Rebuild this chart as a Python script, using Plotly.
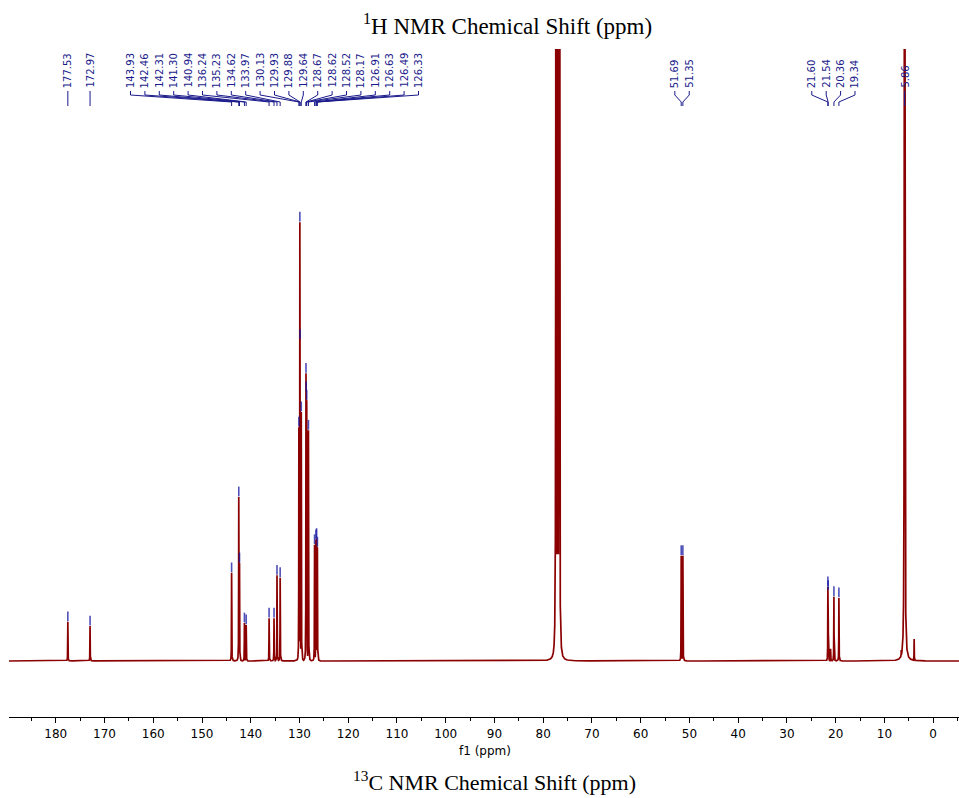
import numpy as np
import plotly.graph_objects as go

# ---------------- data ----------------
# labelled peaks: chemical shift (ppm) and relative intensity
peak_ppm = [177.53, 172.97,
            143.93, 142.46, 142.31, 141.30, 140.94, 136.24, 135.23, 134.62, 133.97,
            130.13, 129.93, 129.88, 129.64, 128.67, 128.62, 128.52, 128.17,
            126.91, 126.63, 126.49, 126.33,
            51.69, 51.35,
            21.60, 21.54, 20.36, 19.34,
            5.86]
peak_height = [0.064, 0.057,
               0.144, 0.268, 0.160, 0.062, 0.059, 0.070, 0.070, 0.140, 0.136,
               0.382, 0.717, 0.525, 0.407, 0.470, 0.440, 0.426, 0.377,
               0.190, 0.198, 0.200, 0.186,
               0.172, 0.172,
               0.121, 0.115, 0.105, 0.103,
               20.0]
# unlabelled peaks (solvent CDCl3 triplet and small impurities)
extra_ppm = [77.36, 77.04, 76.72, 21.05, 6.55, 6.30, 5.45, 3.90]
extra_height = [20.0, 20.0, 20.0, 0.020, 0.018, 0.028, 0.014, 0.036]

# label groups (indices into peak_ppm), as drawn in the reference header
label_groups = [[0], [1], list(range(2, 23)), [23, 24], [25, 26, 27, 28], [29]]

tick_vals = list(range(0, 190, 10))
x_range = [189.6, -5.3]

top_title = "<sup>1</sup>H NMR Chemical Shift (ppm)"
bottom_title = "<sup>13</sup>C NMR Chemical Shift (ppm)"
axis_title = "f1 (ppm)"

# ---------------- layout constants ----------------
W, H = 959, 798
ML, MR, MT, MB = 9, 0, 49, 81
PLOT_H = H - MT - MB
PX_PER_PPM = (W - ML - MR) / (x_range[0] - x_range[1])
Y_RANGE = [-0.0915, 1.0]

def yp(py):
    """pixel row -> paper fraction of plot area"""
    return (H - MB - py) / PLOT_H

RED = "#8b0000"
NAVY = "#1a1a8c"

# ---------------- spectrum trace ----------------
xs = np.round(np.arange(x_range[0], x_range[1], -0.005), 4)
ys = np.zeros_like(xs)
all_ppm = peak_ppm + extra_ppm
all_h = peak_height + extra_height
for p, h in zip(all_ppm, all_h):
    g = 0.015 if h >= 10 else 0.025
    ys = np.maximum(ys, h * g * g / ((xs - p) ** 2 + g * g))
ys = np.round(ys, 5)

fig = go.Figure()
fig.add_trace(go.Scatter(x=xs, y=ys, mode="lines",
                         line=dict(color=RED, width=1.7),
                         hoverinfo="skip", showlegend=False))

# peak-pick marks above each labelled peak (those inside the plot)
mk_x = [p for p, h in zip(peak_ppm, peak_height) if h < 0.95]
mk_y = [h + 0.009 for h in peak_height if h < 0.95]
fig.add_trace(go.Scatter(x=mk_x, y=mk_y, mode="markers",
                         marker=dict(symbol="line-ns", size=7,
                                     line=dict(color="rgba(20,20,160,0.75)", width=1.6)),
                         hoverinfo="skip", showlegend=False))

# ---------------- peak labels with connectors ----------------
spacing_ppm = 14.4 / PX_PER_PPM
shapes = []
annotations = []
for grp in label_groups:
    vals = [peak_ppm[i] for i in grp]
    center = (max(vals) + min(vals)) / 2
    n = len(grp)
    for k, i in enumerate(grp):
        lx = center + (n - 1) / 2 * spacing_ppm - k * spacing_ppm if n > 1 else peak_ppm[i]
        px = peak_ppm[i]
        annotations.append(dict(x=lx, y=yp(89), xref="x", yref="paper",
                                 text=f"{px:.2f}", textangle=-90, showarrow=False,
                                 xanchor="center", yanchor="bottom",
                                 font=dict(family="DejaVu Sans", size=10, color=NAVY),
                                 borderpad=0))
        path = (f"M {lx},{yp(91)} L {lx},{yp(95)} L {px},{yp(102)} L {px},{yp(106)}")
        shapes.append(dict(type="path", path=path, xref="x", yref="paper",
                           line=dict(color=NAVY, width=1)))

annotations.append(dict(x=507, y=25, text=top_title, showarrow=False,
                        font=dict(family="Liberation Serif", size=23, color="black")))
annotations.append(dict(x=485, y=751, text=axis_title, showarrow=False,
                        font=dict(family="DejaVu Sans", size=12, color="black")))
annotations.append(dict(x=494, y=781, text=bottom_title, showarrow=False,
                        font=dict(family="Liberation Serif", size=22, color="black")))

# convert the three pixel-positioned titles to paper coordinates
for a in annotations[-3:]:
    a["xref"] = "paper"
    a["yref"] = "paper"
    a["x"] = (a["x"] - ML) / (W - ML - MR)
    a["y"] = yp(a["y"])
    a["xanchor"] = "center"
    a["yanchor"] = "middle"

fig.update_layout(
    width=W, height=H,
    margin=dict(l=ML, r=MR, t=MT, b=MB, pad=0),
    paper_bgcolor="white", plot_bgcolor="white",
    shapes=shapes, annotations=annotations,
    xaxis=dict(range=x_range, showgrid=False, zeroline=False,
               showline=True, linecolor="black", linewidth=1,
               ticks="outside", ticklen=5, tickcolor="black", tickwidth=1,
               tickvals=tick_vals, ticktext=[str(v) for v in tick_vals],
               ticklabelstandoff=1,
               tickfont=dict(family="DejaVu Sans", size=12, color="black"),
               minor=dict(dtick=5, tick0=0, ticks="outside", ticklen=3,
                          tickcolor="black", showgrid=False)),
    yaxis=dict(range=Y_RANGE, visible=False, showgrid=False, zeroline=False),
)

fig.write_html("out.html")
